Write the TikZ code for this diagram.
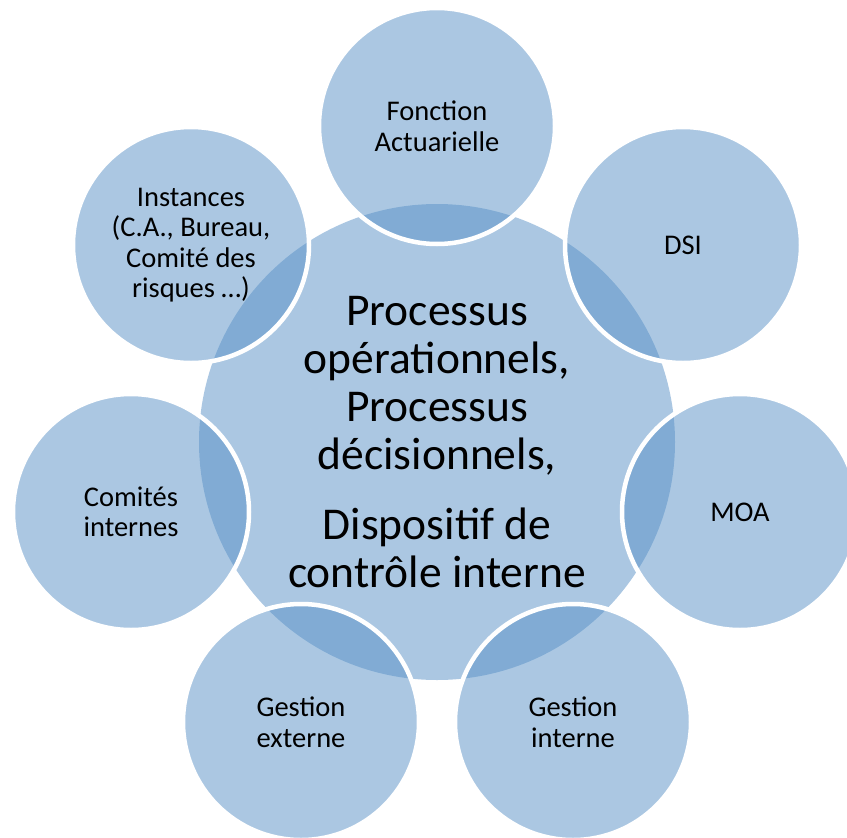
\documentclass[tikz,border=0pt]{standalone}
\usepackage{fontspec}
\setmainfont{Carlito}
\definecolor{bubble}{RGB}{88,144,198}
\tikzset{
  ctrbub/.style={circle, minimum size=476pt, inner sep=0pt, fill=bubble, fill opacity=0.5, text opacity=1, align=center, font=\fontsize{45.5}{48}\selectfont},
  satbub/.style={circle, minimum size=236pt, inner sep=0pt, fill=bubble, fill opacity=0.5, text opacity=1, draw=white, draw opacity=1, line width=4.5pt, align=center, font=\fontsize{28.5}{30.5}\selectfont},
}
\begin{document}
\begin{tikzpicture}[x=1pt, y=-1pt]
\useasboundingbox (0,0) rectangle (847,838);
\node[ctrbub] (c) at (437,442) {Processus\\opérationnels,\\Processus\\décisionnels,\\[22pt]Dispositif de\\contrôle interne};
\node[satbub] (fa) at (437,126) {Fonction\\Actuarielle};
\node[satbub] (dsi) at (683,245) {DSI};
\node[satbub] (moa) at (740,512) {MOA};
\node[satbub] (gi) at (573,722) {Gestion\\interne};
\node[satbub] (ge) at (301,722) {Gestion\\externe};
\node[satbub] (ci) at (131,512) {Comités\\internes};
\node[satbub] (ins) at (191,245) {Instances\\(C.A., Bureau,\\Comité des\\risques …)};
\end{tikzpicture}
\end{document}
